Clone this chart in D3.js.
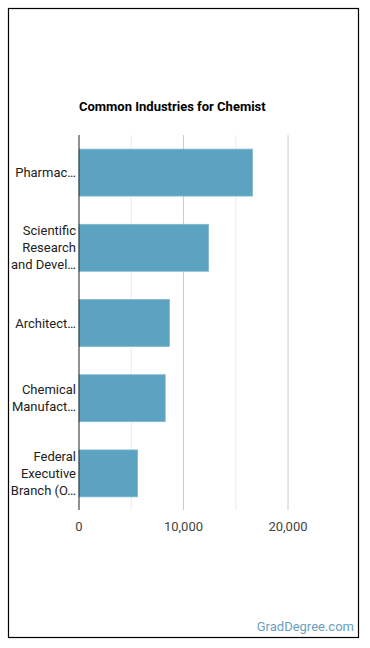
<!DOCTYPE html>
<html>
<head>
<meta charset="utf-8">
<script src="https://cdn.jsdelivr.net/npm/d3@7"></script>
<style>
  body { margin: 0; background: #fff; font-family: Roboto, sans-serif; }
</style>
</head>
<body>
<div class="chart"></div>
<script>
var industries = [
  ["Pharmac\u2026"],
  ["Scientific", "Research", "and Devel\u2026"],
  ["Architect\u2026"],
  ["Chemical", "Manufact\u2026"],
  ["Federal", "Executive", "Branch (O\u2026"]
];
var workers = [16600, 12400, 8650, 8250, 5600];
var tickValues = [0, 10000, 20000];
var gridValues = [5000, 10000, 15000, 20000];

var width = 370,
    height = 648;

var svg = d3.select(".chart").append("svg")
    .attr("width", width)
    .attr("height", height);

// frame
svg.append("rect")
    .attr("x", 8.5).attr("y", 8.5)
    .attr("width", 350).attr("height", 629)
    .attr("fill", "#fff")
    .attr("stroke", "#000")
    .attr("stroke-width", 1.2);

svg.append("text")
    .attr("x", 79)
    .attr("y", 111)
    .attr("font-size", "13px")
    .attr("font-weight", "bold")
    .attr("fill", "#000")
    .text("Common Industries for Chemist");

var x = d3.scaleLinear()
    .domain([0, 20000])
    .range([79, 288]);

var y = d3.scaleBand()
    .domain(d3.range(industries.length))
    .range([135, 511])
    .paddingInner(0.376)
    .paddingOuter(0.188);

svg.append("g")
    .selectAll("line")
    .data(gridValues)
    .enter()
    .append("line")
    .attr("x1", function(d){ return x(d); })
    .attr("x2", function(d){ return x(d); })
    .attr("y1", 135)
    .attr("y2", 510)
    .attr("stroke", function(d){ return d % 10000 === 0 ? "#cccccc" : "#ebebeb"; })
    .attr("stroke-width", 1);

svg.append("g")
    .selectAll("rect")
    .data(workers)
    .enter()
    .append("rect")
    .attr("x", x(0))
    .attr("y", function(d, i){ return y(i); })
    .attr("width", function(d){ return x(d) - x(0); })
    .attr("height", y.bandwidth())
    .attr("fill", "#5ba3c1")
    .attr("stroke", "#7fb8cf")
    .attr("stroke-width", 0.8);

svg.append("line")
    .attr("x1", x(0)).attr("x2", x(0))
    .attr("y1", 135).attr("y2", 510)
    .attr("stroke", "#222")
    .attr("stroke-width", 1);

// category labels
var lineH = 17;
svg.append("g")
    .selectAll("text")
    .data(industries)
    .enter()
    .append("text")
    .attr("text-anchor", "end")
    .attr("font-size", "13px")
    .attr("fill", "#222")
    .each(function(lines, i){
      var cy = y(i) + y.bandwidth() / 2;
      var top = cy - (lines.length - 1) * lineH / 2;
      d3.select(this).selectAll("tspan")
          .data(lines)
          .enter()
          .append("tspan")
          .attr("x", 76)
          .attr("y", function(d, j){ return top + j * lineH + 4.5; })
          .text(function(d){ return d; });
    });

svg.append("g")
    .selectAll("text")
    .data(tickValues)
    .enter()
    .append("text")
    .attr("x", function(d){ return x(d); })
    .attr("y", 531)
    .attr("text-anchor", "middle")
    .attr("font-size", "13px")
    .attr("fill", "#444")
    .text(function(d){ return d3.format(",")(d); });

svg.append("text")
    .attr("x", 354)
    .attr("y", 631)
    .attr("text-anchor", "end")
    .attr("font-size", "13px")
    .attr("fill", "#6a9fbf")
    .text("GradDegree.com");
</script>
</body>
</html>
